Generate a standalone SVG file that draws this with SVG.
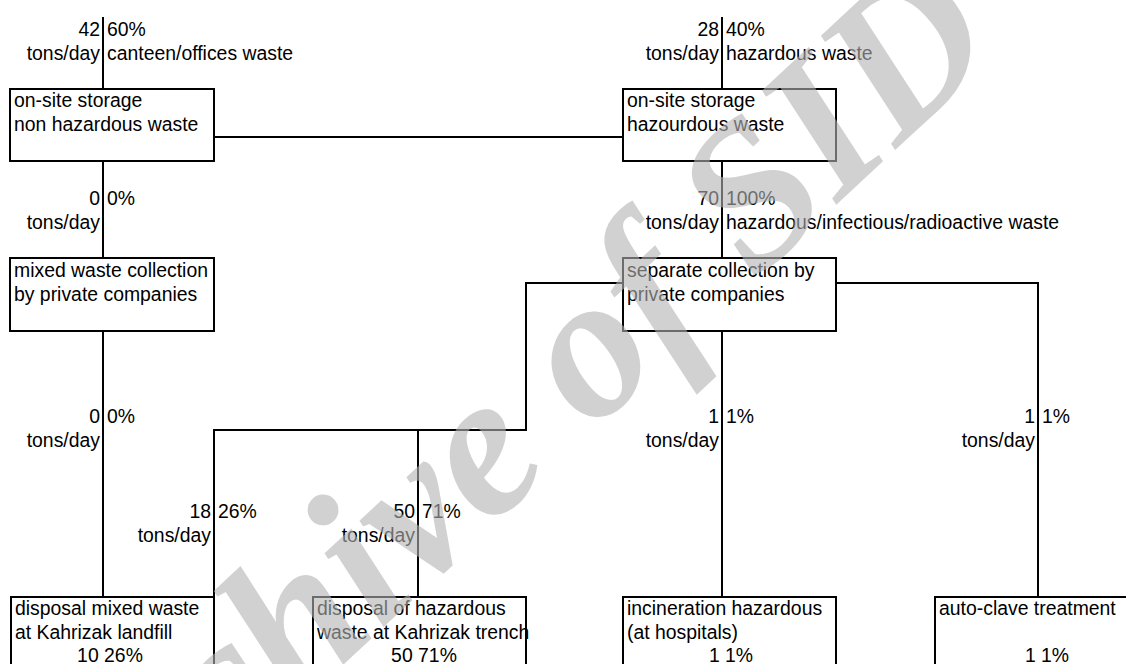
<svg xmlns="http://www.w3.org/2000/svg" width="1126" height="664" viewBox="0 0 1126 664">
<style>
text{font-family:"Liberation Sans",Arial,sans-serif;font-size:19.4px;fill:#000}
.e{text-anchor:end}
.m{text-anchor:middle}
.box{fill:#fff;stroke:#000;stroke-width:2}
.c{fill:none;stroke:#000;stroke-width:2}
.wm{font-family:"Liberation Serif","Times New Roman",serif;font-style:italic;font-weight:bold;font-size:205px;fill:#b4b4b4;opacity:0.6}
</style>
<rect width="1126" height="664" fill="#fff"/>
<g id="connectors">
<path class="c" d="M103 17V89"/>
<path class="c" d="M722 17V89"/>
<path class="c" d="M214 137H623"/>
<path class="c" d="M103 161V258"/>
<path class="c" d="M722 161V258"/>
<path class="c" d="M103 331V597"/>
<path class="c" d="M623 283H526V430H214V597"/>
<path class="c" d="M418 430V597"/>
<path class="c" d="M722 331V597"/>
<path class="c" d="M836 283H1038V597"/>
</g>
<g id="flow-labels">
<text class="e" x="100" y="36">42</text><text x="107" y="36">60%</text>
<text class="e" x="100" y="60">tons/day</text><text x="107" y="60">canteen/offices waste</text>
<text class="e" x="719" y="36">28</text><text x="726" y="36">40%</text>
<text class="e" x="719" y="60">tons/day</text><text x="726" y="60">hazardous waste</text>
<text class="e" x="100" y="205">0</text><text x="107" y="205">0%</text>
<text class="e" x="100" y="229">tons/day</text>
<text class="e" x="719" y="205">70</text><text x="726" y="205">100%</text>
<text class="e" x="719" y="229">tons/day</text><text x="726" y="229">hazardous/infectious/radioactive waste</text>
<text class="e" x="100" y="423">0</text><text x="107" y="423">0%</text>
<text class="e" x="100" y="447">tons/day</text>
<text class="e" x="719" y="423">1</text><text x="726" y="423">1%</text>
<text class="e" x="719" y="447">tons/day</text>
<text class="e" x="1035" y="423">1</text><text x="1042" y="423">1%</text>
<text class="e" x="1035" y="447">tons/day</text>
<text class="e" x="211" y="518">18</text><text x="218" y="518">26%</text>
<text class="e" x="211" y="542">tons/day</text>
<text class="e" x="415" y="518">50</text><text x="422" y="518">71%</text>
<text class="e" x="415" y="542">tons/day</text>
</g>
<g id="node-storage-nonhaz">
<rect class="box" x="10" y="89" width="204" height="72"/>
<text x="14" y="107">on-site storage</text>
<text x="14" y="131">non hazardous waste</text>
</g>
<g id="node-storage-haz">
<rect class="box" x="623" y="89" width="213" height="72"/>
<text x="627" y="107">on-site storage</text>
<text x="627" y="131">hazourdous waste</text>
</g>
<g id="node-mixed-collection">
<rect class="box" x="10" y="258" width="204" height="73"/>
<text x="14" y="277">mixed waste collection</text>
<text x="14" y="301">by private companies</text>
</g>
<g id="node-separate-collection">
<rect class="box" x="623" y="258" width="213" height="73"/>
<text x="627" y="277">separate collection by</text>
<text x="627" y="301">private companies</text>
</g>
<g id="node-landfill">
<rect class="box" x="11" y="597" width="203" height="120"/>
<text x="15" y="615">disposal mixed waste</text>
<text x="15" y="639">at Kahrizak landfill</text>
<text class="m" x="110" y="662">10 26%</text>
</g>
<g id="node-trench">
<rect class="box" x="313" y="597" width="213" height="120"/>
<text x="317" y="615">disposal of hazardous</text>
<text x="317" y="639">waste at Kahrizak trench</text>
<text class="m" x="424" y="662">50 71%</text>
</g>
<g id="node-incineration">
<rect class="box" x="623" y="597" width="213" height="120"/>
<text x="627" y="615">incineration hazardous</text>
<text x="627" y="639">(at hospitals)</text>
<text class="m" x="731" y="662">1 1%</text>
</g>
<g id="node-autoclave">
<rect class="box" x="935" y="597" width="225" height="120"/>
<text x="939" y="615">auto-clave treatment</text>
<text class="m" x="1047" y="662">1 1%</text>
</g>
<text class="wm" transform="translate(538,483) rotate(-43)" text-anchor="middle">Archive of SID</text>
</svg>
